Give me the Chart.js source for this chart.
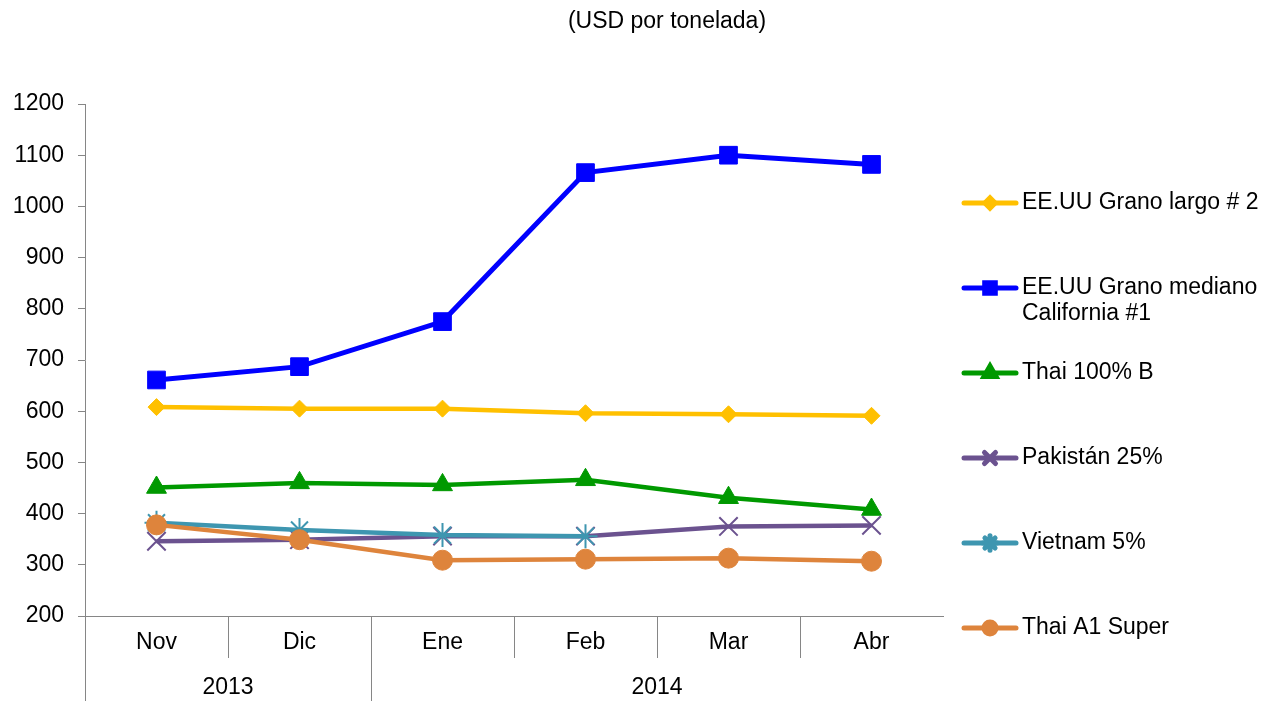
<!DOCTYPE html>
<html>
<head>
<meta charset="utf-8">
<script src="https://cdn.jsdelivr.net/npm/chart.js@4.4.1/dist/chart.umd.min.js"></script>
<style>
  html, body { margin: 0; padding: 0; background: #fff; }
</style>
</head>
<body>
<canvas id="grafico" width="1280" height="701"></canvas>
<script>
// datos (USD por tonelada)
const meses = ['Nov', 'Dic', 'Ene', 'Feb', 'Mar', 'Abr'];
const anios = ['2013', '2014'];
const mesesPorAnio = [2, 4];

const granoLargo = [608, 605, 605, 596, 594, 591];
const granoMediano = [661, 687, 775, 1066, 1100, 1082];
const thai100B = [451, 460, 456, 466, 431, 408];
const pakistan25 = [346, 349, 356, 356, 375, 377];
const vietnam5 = [382, 368, 358, 356, null, null];
const thaiA1 = [378, 349, 309, 311, 313, 307];

const titulo = '(USD por tonelada)';
const fuente = '"Liberation Sans", Arial, sans-serif';
const tam = 23;
const gris = '#868686';

function serie(nombre, datos, color, estilo, radio, grosor) {
    return {
        label: nombre,
        data: datos,
        borderColor: color,
        backgroundColor: color,
        pointBackgroundColor: color,
        pointBorderColor: color,
        pointStyle: estilo,
        pointRadius: radio,
        pointHoverRadius: radio,
        pointBorderWidth: (estilo == 'crossRot' || estilo == 'star') ? 2 : 1,
        borderWidth: grosor,
        tension: 0,
        fill: false
    }
}

let datasets = [
    serie(['EE.UU Grano largo # 2'], granoLargo, '#FFC000', 'rectRot', 8.5, 4.5),
    serie(['EE.UU Grano mediano', 'California #1'], granoMediano, '#0000FF', 'rect', 12.5, 5),
    serie(['Thai 100% B'], thai100B, '#009900', 'triangle', 11.5, 4.5),
    serie(['Pakistán 25%'], pakistan25, '#6B528F', 'crossRot', 13, 4.5),
    serie(['Vietnam 5%'], vietnam5, '#3E96B0', 'star', 12, 4.5),
    serie(['Thai A1 Super'], thaiA1, '#DE843C', 'circle', 10, 4.5)
];
// la ultima serie queda encima, como en el original
datasets.forEach((d, i) => { d.order = datasets.length - i })

const extras = {
    id: 'extras',
    afterDraw(chart) {
        const ctx = chart.ctx;
        const xs = chart.scales.x;
        const area = chart.chartArea;
        ctx.save();

        // titulo
        ctx.fillStyle = '#000';
        ctx.font = tam + 'px ' + fuente;
        ctx.textAlign = 'center';
        ctx.textBaseline = 'middle';
        ctx.fillText(titulo, 667, 22);

        // separadores del eje de categorias
        let limites = [0];
        mesesPorAnio.reduce((a, b) => { limites.push(a + b); return a + b }, 0);
        ctx.strokeStyle = gris;
        ctx.lineWidth = 1;
        for (let i = 0; i < meses.length; i++) {
            let px = i == 0 ? area.left : (xs.getPixelForValue(i - 1) + xs.getPixelForValue(i)) / 2;
            px = Math.round(px) + 0.5;
            let largo = limites.includes(i) ? 85 : 42;
            ctx.beginPath();
            ctx.moveTo(px, area.bottom);
            ctx.lineTo(px, area.bottom + largo);
            ctx.stroke();
        }

        // etiquetas de anio
        ctx.fillStyle = '#000';
        for (let g = 0; g < anios.length; g++) {
            let ini = limites[g] == 0 ? area.left : (xs.getPixelForValue(limites[g] - 1) + xs.getPixelForValue(limites[g])) / 2;
            let fin = limites[g + 1] >= meses.length ? area.right : (xs.getPixelForValue(limites[g + 1] - 1) + xs.getPixelForValue(limites[g + 1])) / 2;
            ctx.fillText(anios[g], (ini + fin) / 2, 688);
        }

        // leyenda
        ctx.textAlign = 'left';
        chart.data.datasets.forEach((d, i) => {
            let y = 203 + i * 85;
            ctx.strokeStyle = d.borderColor;
            ctx.lineWidth = 5;
            ctx.lineCap = 'round';
            ctx.beginPath();
            ctx.moveTo(964, y);
            ctx.lineTo(1016, y);
            ctx.stroke();
            ctx.fillStyle = d.borderColor;
            Chart.helpers.drawPoint(ctx, {
                pointStyle: d.pointStyle,
                radius: d.pointRadius * 0.6,
                rotation: 0,
                borderWidth: d.pointBorderWidth
            }, 990, y);
            ctx.fillStyle = '#000';
            d.label.forEach((linea, k) => ctx.fillText(linea, 1022, y + k * 26));
        });
        ctx.restore();
    }
};

new Chart(document.getElementById('grafico'), {
    type: 'line',
    data: { labels: meses, datasets: datasets },
    options: {
        responsive: false,
        animation: false,
        layout: { padding: { top: 104, right: 337, left: 0, bottom: 0 } },
        plugins: { legend: { display: false }, tooltip: { enabled: false } },
        scales: {
            x: {
                offset: true,
                grid: { display: false, drawTicks: false },
                border: { display: true, color: gris, width: 1 },
                ticks: { color: '#000', font: { family: fuente, size: tam }, padding: 13, maxRotation: 0 },
                afterFit: s => { s.height = 85 }
            },
            y: {
                min: 200,
                max: 1200,
                ticks: {
                    stepSize: 100, color: '#000', font: { family: fuente, size: tam }, padding: 14,
                    callback: v => String(v)
                },
                grid: { drawOnChartArea: false, tickLength: 7, color: gris },
                border: { color: gris, width: 1 },
                afterFit: s => { s.width = 85 }
            }
        }
    },
    plugins: [extras]
});
</script>
</body>
</html>
